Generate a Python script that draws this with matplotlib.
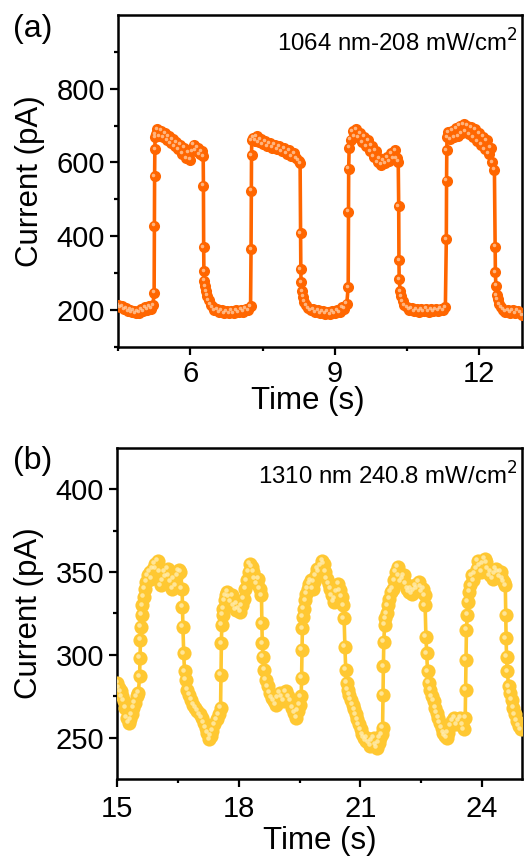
import numpy as np
import matplotlib
matplotlib.use("Agg")
import matplotlib.pyplot as plt
from matplotlib.transforms import offset_copy

plt.rcParams['font.family'] = ['Liberation Sans', 'DejaVu Sans']

# --- panel (a): 1064 nm ------------------------------------------------------
time_a = [
    4.50, 4.54, 4.58, 4.62, 4.66, 4.70, 4.74, 4.78, 4.82, 4.86, 4.90, 4.94, 4.98, 5.02,
    5.06, 5.10, 5.14, 5.18, 5.22, 5.245,
    5.25, 5.255, 5.26, 5.265,
    5.28, 5.31, 5.35, 5.39, 5.43, 5.47, 5.51, 5.55, 5.59, 5.63, 5.67, 5.71, 5.75, 5.79,
    5.83, 5.87, 5.91, 5.95, 5.99, 6.03, 6.07, 6.11, 6.15, 6.19, 6.23, 6.265,
    6.27, 6.275, 6.28, 6.29, 6.30, 6.32, 6.35, 6.38, 6.42, 6.46, 6.50, 6.55, 6.60, 6.65,
    6.70, 6.75, 6.80, 6.85, 6.90, 6.95, 7.00, 7.05, 7.10, 7.15, 7.20, 7.25,
    7.26, 7.265, 7.27, 7.275,
    7.30, 7.34, 7.38, 7.42, 7.46, 7.50, 7.55, 7.60, 7.65, 7.70, 7.75, 7.80, 7.85, 7.90,
    7.95, 8.00, 8.05, 8.10, 8.15, 8.20, 8.25, 8.28,
    8.29, 8.295, 8.30, 8.32, 8.34, 8.37, 8.40, 8.45, 8.50, 8.55, 8.60, 8.65, 8.70, 8.75,
    8.80, 8.85, 8.90, 8.95, 9.00, 9.05, 9.10, 9.15, 9.20, 9.25, 9.28,
    9.285, 9.29, 9.30,
    9.33, 9.37, 9.41, 9.45, 9.49, 9.53, 9.57, 9.61, 9.65, 9.69, 9.73, 9.77, 9.81, 9.85,
    9.89, 9.93, 9.97, 10.01, 10.05, 10.09, 10.13, 10.17, 10.21, 10.25, 10.29, 10.32,
    10.33, 10.335, 10.34, 10.36, 10.38, 10.41, 10.45, 10.50, 10.55, 10.60, 10.65, 10.70,
    10.75, 10.80, 10.85, 10.90, 10.95, 11.00, 11.05, 11.10, 11.15, 11.20, 11.25, 11.30,
    11.32, 11.325, 11.33, 11.335,
    11.36, 11.40, 11.44, 11.48, 11.52, 11.56, 11.60, 11.64, 11.68, 11.72, 11.76, 11.80,
    11.84, 11.88, 11.92, 11.96, 12.00, 12.04, 12.08, 12.12, 12.16, 12.20, 12.24, 12.28, 12.32,
    12.335, 12.34, 12.35, 12.37, 12.39, 12.42, 12.46, 12.50, 12.55, 12.60, 12.65, 12.70,
    12.75, 12.80, 12.85, 12.89,
]
current_a = [
    212, 206, 209, 201, 205, 196, 200, 193, 197, 190, 196, 192, 201, 196,
    206, 200, 210, 203, 212, 246,
    428, 563, 636, 668,
    676, 690, 672, 686, 668, 680, 660, 672, 652, 664, 644, 656, 636, 648,
    624, 640, 612, 628, 608, 630, 648, 632, 640, 622, 630, 618,
    537, 369, 304, 279, 264, 251, 238, 225, 214, 206, 199, 202, 193, 198,
    191, 196, 190, 197, 191, 198, 193, 200, 195, 203, 198, 210,
    364, 523, 620, 660,
    667, 659, 671, 656, 664, 650, 658, 645, 653, 640, 648, 636, 644, 630,
    639, 624, 634, 618, 626, 612, 605, 598,
    408, 311, 274, 250, 235, 222, 213, 205, 198, 202, 193, 199, 190, 196,
    189, 195, 188, 196, 191, 199, 194, 206, 203, 216, 262,
    466, 583, 640,
    662, 685, 670, 690, 668, 680, 656, 670, 644, 660, 630, 646, 616, 632,
    600, 612, 594, 606, 598, 614, 604, 625, 610, 634, 612, 602,
    482, 334, 283, 251, 236, 223, 213, 206, 200, 204, 196, 202,
    195, 201, 196, 203, 195, 201, 196, 202, 197, 203, 199, 207,
    391, 551, 634, 668,
    682, 664, 686, 668, 694, 672, 700, 680, 704, 684, 700, 676,
    696, 668, 690, 658, 680, 648, 670, 636, 660, 624, 640, 600, 580,
    371, 302, 265, 240, 228, 215, 206, 200, 195, 199, 192, 198,
    191, 197, 192, 186,
]

# --- panel (b): 1310 nm ------------------------------------------------------
time_b = [
    15.00, 15.04, 15.08, 15.12, 15.16, 15.20, 15.24, 15.28, 15.32, 15.36, 15.40, 15.44,
    15.48, 15.52, 15.55, 15.56, 15.57, 15.58, 15.60, 15.62, 15.65, 15.68, 15.72, 15.76,
    15.80, 15.84, 15.88, 15.92, 15.96, 16.00, 16.04, 16.08, 16.12, 16.16, 16.20, 16.24,
    16.28, 16.32, 16.36, 16.40, 16.44, 16.48, 16.52, 16.56, 16.60, 16.61, 16.62, 16.64,
    16.66, 16.69, 16.73, 16.78, 16.83, 16.88, 16.93, 16.98, 17.03, 17.08, 17.13, 17.18,
    17.22, 17.27, 17.31, 17.35, 17.40, 17.45, 17.50, 17.55, 17.56, 17.57, 17.58, 17.60,
    17.62, 17.65, 17.68, 17.72, 17.76, 17.80, 17.84, 17.88, 17.92, 17.96, 18.00, 18.04,
    18.08, 18.12, 18.16, 18.20, 18.24, 18.28, 18.32, 18.36, 18.40, 18.44, 18.48, 18.52,
    18.56, 18.57, 18.58, 18.60, 18.63, 18.67, 18.72, 18.77, 18.82, 18.87, 18.92, 18.97,
    19.02, 19.07, 19.12, 19.17, 19.22, 19.27, 19.32, 19.37, 19.42, 19.46, 19.50, 19.54,
    19.55, 19.56, 19.57, 19.59, 19.61, 19.64, 19.67, 19.70, 19.74, 19.78, 19.82, 19.86,
    19.90, 19.94, 19.98, 20.02, 20.06, 20.10, 20.14, 20.18, 20.22, 20.26, 20.30, 20.34,
    20.38, 20.42, 20.46, 20.50, 20.54, 20.58, 20.60, 20.62, 20.64, 20.66, 20.69, 20.73,
    20.77, 20.81, 20.85, 20.89, 20.93, 20.97, 21.01, 21.05, 21.09, 21.13, 21.17, 21.21,
    21.25, 21.29, 21.33, 21.37, 21.41, 21.45, 21.49, 21.53, 21.55, 21.56, 21.57, 21.58,
    21.60, 21.62, 21.65, 21.68, 21.72, 21.76, 21.80, 21.84, 21.88, 21.92, 21.96, 22.00,
    22.04, 22.08, 22.12, 22.16, 22.20, 22.24, 22.28, 22.32, 22.36, 22.40, 22.44, 22.48,
    22.52, 22.56, 22.59, 22.60, 22.62, 22.64, 22.66, 22.69, 22.73, 22.77, 22.81, 22.85,
    22.89, 22.93, 22.97, 23.01, 23.05, 23.09, 23.13, 23.17, 23.22, 23.27, 23.32, 23.37,
    23.42, 23.47, 23.52, 23.56, 23.59, 23.60, 23.61, 23.62, 23.64, 23.66, 23.69, 23.72,
    23.75, 23.79, 23.83, 23.87, 23.91, 23.95, 23.99, 24.03, 24.07, 24.11, 24.15, 24.19,
    24.23, 24.27, 24.31, 24.35, 24.39, 24.43, 24.47, 24.51, 24.55, 24.58, 24.59, 24.60,
    24.61, 24.63, 24.66, 24.70, 24.74, 24.78, 24.82, 24.86, 24.91, 24.96,
]
current_b = [
    283, 280, 278, 275, 272, 268, 262, 259, 261, 264, 268, 271,
    275, 277, 287, 298, 309, 317, 324, 330, 335, 340, 344, 348,
    350, 346, 352, 355, 352, 357, 350, 342, 345, 350, 347, 352,
    348, 344, 340, 346, 342, 348, 351, 350, 340, 329, 317, 301,
    290, 285, 279, 276, 273, 270, 268, 266, 264, 262, 259, 256,
    253, 249, 251, 254, 258, 261, 264, 268, 288, 307, 318, 324,
    328, 333, 336, 338, 335, 332, 336, 330, 327, 331, 328, 326,
    330, 334, 340, 345, 350, 355, 353, 350, 346, 343, 346, 340,
    336, 319, 307, 299, 291, 285, 281, 277, 274, 272, 270, 274,
    277, 275, 272, 278, 275, 272, 268, 265, 262, 266, 270, 275,
    286, 303, 316, 323, 328, 333, 337, 340, 343, 345, 340, 344,
    348, 352, 350, 354, 357, 355, 350, 346, 343, 340, 336, 332,
    334, 338, 343, 339, 335, 330, 322, 305, 291, 283, 279, 276,
    273, 270, 267, 264, 261, 258, 255, 252, 250, 248, 250, 247,
    245, 248, 250, 246, 244, 247, 250, 252, 256, 276, 293, 308,
    318, 322, 325, 330, 334, 338, 340, 345, 350, 353, 348, 344,
    346, 348, 343, 340, 338, 340, 337, 339, 342, 340, 344, 341,
    338, 340, 336, 330, 311, 301, 290, 283, 279, 275, 272, 268,
    265, 262, 259, 256, 253, 251, 250, 253, 257, 260, 262, 258,
    260, 262, 258, 255, 262, 279, 297, 315, 324, 332, 338, 342,
    348, 345, 349, 352, 357, 354, 350, 355, 358, 356, 352, 348,
    350, 346, 349, 352, 350, 347, 350, 346, 344, 342, 324, 310,
    299, 290, 281, 277, 273, 268, 264, 260, 257, 255,
]

# axis ticks as drawn in the original figure
xticks_a = [6, 9, 12]
xminor_a = [4.5, 7.5, 10.5]
yticks_a = [200, 400, 600, 800]
yminor_a = [100, 300, 500, 700, 900]
xticks_b = [15, 18, 21, 24]
xminor_b = [16.5, 19.5, 22.5]
yticks_b = [250, 300, 350, 400]
yminor_b = [275, 325, 375]

labels = ["(a)", "(b)"]
notes = ["1064 nm-208 mW/cm$^2$", "1310 nm 240.8 mW/cm$^2$"]
colors = ["#FF6600", "#FFC832"]
highlights = ["#FFCFA8", "#FFEFB8"]

fig = plt.figure(figsize=(5.30, 8.56), dpi=100)
ax_a = fig.add_axes([0.2232, 0.5952, 0.7623, 0.3870])
ax_b = fig.add_axes([0.2213, 0.0900, 0.7642, 0.3866])

# ax, t, I, marker size, xlim, ylim, ticks, xlabel x/y, x tick pad
panels = [
    (ax_a, time_a, current_a, 8.0, (4.5, 12.9), (100, 1000),
     xticks_a, xminor_a, yticks_a, yminor_a, 0.47, -0.118, 4),
    (ax_b, time_b, current_b, 10.2, (15, 25), (225, 425),
     xticks_b, xminor_b, yticks_b, yminor_b, 0.5, -0.142, 6),
]

for i, (ax, t, cur, ms, xlim, ylim, xt, xm, yt, ym, xlx, xly, xpad) in enumerate(panels):
    ax.plot(t, cur, "-", color=colors[i], lw=2.6, zorder=2)
    ax.plot(t, cur, "o", color=colors[i], ms=ms, mew=0, zorder=3)
    # specular highlight on the "ball" markers
    hl = offset_copy(ax.transData, fig=fig, x=-ms * 0.12, y=ms * 0.12, units="points")
    ax.plot(t, cur, "o", color=highlights[i], ms=ms * 0.32, mew=0,
            alpha=0.75, transform=hl, zorder=4)
    ax.set_xlim(*xlim)
    ax.set_ylim(*ylim)
    ax.set_xticks(xt)
    ax.set_xticks(xm, minor=True)
    ax.set_yticks(yt)
    ax.set_yticks(ym, minor=True)
    ax.tick_params(which="both", direction="out", width=1.6, labelsize=21,
                   top=False, right=False, pad=4)
    ax.tick_params(axis="x", which="both", pad=xpad)
    ax.tick_params(which="major", length=5.5)
    ax.tick_params(which="minor", length=3)
    for sp in ax.spines.values():
        sp.set_linewidth(1.8)
    ax.set_xlabel("Time (s)", fontsize=22.5)
    ax.xaxis.set_label_coords(xlx, xly)
    ax.set_ylabel("Current (pA)", fontsize=22.5)
    ax.yaxis.set_label_coords(-0.182, 0.5)
    ax.text(0.988, 0.915, notes[i], transform=ax.transAxes, ha="right", va="center",
            fontsize=17.3)

fig.text(0.024, 1 - 28.7 / 856, labels[0], fontsize=23, va="center", ha="left")
fig.text(0.024, 1 - 460.6 / 856, labels[1], fontsize=23, va="center", ha="left")

fig.savefig("out.png", dpi=100)
